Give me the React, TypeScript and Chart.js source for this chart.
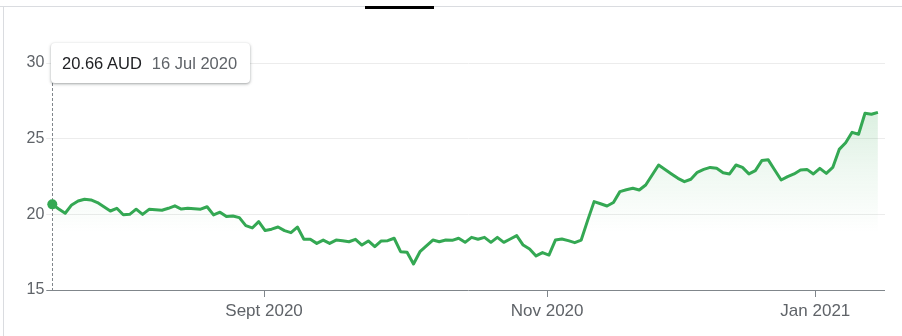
import React, { useEffect, useRef } from 'react';
import { Chart, registerables } from 'chart.js';

Chart.register(...registerables);

// Closing price (AUD), one value per trading day, 16 Jul 2020 -> 15 Jan 2021
const prices: number[] = [
  20.66, 20.35, 20.07, 20.62, 20.88, 21.0, 20.95, 20.78, 20.5, 20.22,
  20.4, 19.97, 20.0, 20.34, 20.0, 20.33, 20.3, 20.27, 20.4, 20.56,
  20.35, 20.4, 20.37, 20.34, 20.5, 19.96, 20.14, 19.85, 19.89, 19.78,
  19.25, 19.1, 19.52, 18.93, 19.02, 19.16, 18.92, 18.79, 19.16, 18.35,
  18.35, 18.08, 18.3, 18.08, 18.3, 18.26, 18.19, 18.35, 17.97, 18.24,
  17.86, 18.24, 18.26, 18.42, 17.53, 17.49, 16.72, 17.53, 17.91, 18.3,
  18.19, 18.3, 18.28, 18.42, 18.15, 18.48, 18.35, 18.48, 18.15, 18.48,
  18.15, 18.37, 18.59, 17.97, 17.71, 17.25, 17.47, 17.31, 18.3, 18.37,
  18.26, 18.13, 18.3, 19.6, 20.84, 20.7, 20.55, 20.78, 21.5, 21.62,
  21.72, 21.61, 21.94, 22.6, 23.26, 22.97, 22.67, 22.38, 22.16, 22.32,
  22.78, 22.97, 23.1, 23.04, 22.75, 22.67, 23.26, 23.1, 22.67, 22.89,
  23.55, 23.6, 22.93, 22.27, 22.49, 22.67, 22.93, 22.97, 22.67, 23.04,
  22.71, 23.1, 24.29, 24.73, 25.42, 25.29, 26.68, 26.61, 26.74,
];

// Month boundaries expressed in trading-day units
const xTickPositions: number[] = [32.83, 76.72, 118.3];
const xTickLabels: string[] = ['Sept 2020', 'Nov 2020', 'Jan 2021'];
const yTicks: number[] = [15, 20, 25, 30];

const tooltipValue = '20.66 AUD';
const tooltipDate = '16 Jul 2020';
const highlightIndex = 0;

const GREEN = '#34a853';
const FONT = 'Arial, "Liberation Sans", Helvetica, sans-serif';

export default function App() {
  const canvasRef = useRef<HTMLCanvasElement | null>(null);

  useEffect(() => {
    const canvas = canvasRef.current;
    if (!canvas) return;

    const crosshair = {
      id: 'crosshair',
      beforeDatasetsDraw(chart: any) {
        const { ctx, scales } = chart;
        const x = Math.round(scales.x.getPixelForValue(highlightIndex)) + 0.5;
        ctx.save();
        ctx.strokeStyle = '#80868b';
        ctx.lineWidth = 1;
        ctx.setLineDash([3, 2]);
        ctx.beginPath();
        ctx.moveTo(x, 83);
        ctx.lineTo(x, scales.y.getPixelForValue(15));
        ctx.stroke();
        ctx.restore();
      },
    };

    const chart = new Chart(canvas, {
      type: 'line',
      data: {
        datasets: [
          {
            data: prices.map((v, i) => ({ x: i, y: v })),
            borderColor: GREEN,
            borderWidth: 3,
            tension: 0,
            borderJoinStyle: 'round',
            fill: 'start',
            clip: false as any,
            backgroundColor: (c: any) => {
              const ch = c.chart;
              if (!ch.chartArea) return 'rgba(52,168,83,0.1)';
              const y = ch.scales.y;
              const g = ch.ctx.createLinearGradient(0, y.getPixelForValue(27), 0, y.getPixelForValue(18.8));
              g.addColorStop(0, 'rgba(52,168,83,0.18)');
              g.addColorStop(0.5, 'rgba(52,168,83,0.08)');
              g.addColorStop(1, 'rgba(52,168,83,0)');
              return g;
            },
            pointRadius: (c: any) => (c.dataIndex === highlightIndex ? 5 : 0),
            pointBackgroundColor: GREEN,
            pointBorderWidth: 0,
            pointHoverRadius: 0,
          },
        ],
      },
      options: {
        responsive: false,
        animation: false,
        events: [],
        layout: { padding: { top: 63, right: 17, left: 0, bottom: 0 } },
        plugins: {
          legend: { display: false },
          tooltip: { enabled: false },
        },
        scales: {
          x: {
            type: 'linear',
            min: 0,
            max: 129.1,
            border: { display: false },
            grid: { drawOnChartArea: false, drawTicks: true, tickLength: 7, color: '#80868b' },
            ticks: {
              autoSkip: false,
              maxRotation: 0,
              padding: 4,
              color: '#5f6368',
              font: { size: 17, family: FONT },
              callback: (_v: any, i: number) => xTickLabels[i],
            },
            afterBuildTicks: (s: any) => {
              s.ticks = xTickPositions.map((v) => ({ value: v }));
            },
            afterFit: (s: any) => {
              s.height = 46;
            },
          },
          y: {
            min: 15,
            max: 30,
            border: { display: false },
            grid: {
              color: (c: any) => (c.tick && c.tick.value === 15 ? '#80868b' : '#ececec'),
              tickLength: 6,
            },
            ticks: {
              padding: 2,
              color: '#5f6368',
              font: { size: 16, family: FONT },
            },
            afterBuildTicks: (s: any) => {
              s.ticks = yTicks.map((v) => ({ value: v }));
            },
            afterFit: (s: any) => {
              s.width = 52.3;
            },
          },
        },
      },
      plugins: [crosshair],
    } as any);

    return () => chart.destroy();
  }, []);

  return (
    <div style={{ position: 'absolute', left: 0, top: 0, width: 902, height: 336, background: '#fff', overflow: 'hidden' }}>
      <div style={{ position: 'absolute', left: 0, top: 6, width: 902, height: 1, background: '#dadce0' }} />
      <div style={{ position: 'absolute', left: 3, top: 6, width: 1, height: 330, background: '#dadce0' }} />
      <div style={{ position: 'absolute', left: 365, top: 6, width: 69, height: 3, background: '#000' }} />
      <canvas ref={canvasRef} width={902} height={336} style={{ position: 'absolute', left: 0, top: 0, display: 'block' }} />
      <div
        style={{
          position: 'absolute',
          left: 51,
          top: 43,
          width: 199,
          height: 40,
          boxSizing: 'border-box',
          background: '#fff',
          borderRadius: 4,
          boxShadow: '0 1px 2px rgba(60,64,67,0.3), 0 1px 3px 1px rgba(60,64,67,0.15)',
          display: 'flex',
          alignItems: 'center',
          paddingLeft: 11,
          fontFamily: FONT,
          fontSize: 16.5,
          whiteSpace: 'nowrap',
        }}
      >
        <span style={{ color: '#202124' }}>{tooltipValue}</span>
        <span style={{ color: '#5f6368', marginLeft: 10 }}>{tooltipDate}</span>
      </div>
    </div>
  );
}
